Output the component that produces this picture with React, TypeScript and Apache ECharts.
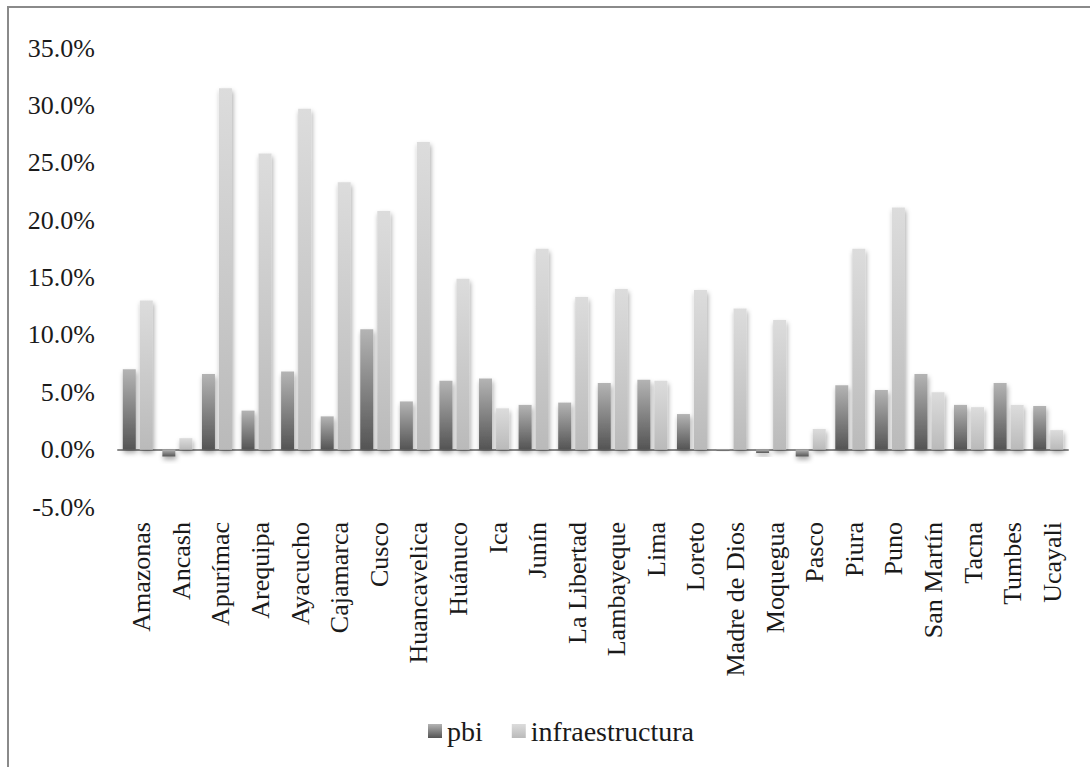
import React, { useEffect, useRef } from "react";
import * as echarts from "echarts";

const categories = [
  "Amazonas", "Ancash", "Apurímac", "Arequipa", "Ayacucho", "Cajamarca", "Cusco",
  "Huancavelica", "Huánuco", "Ica", "Junín", "La Libertad", "Lambayeque", "Lima",
  "Loreto", "Madre de Dios", "Moquegua", "Pasco", "Piura", "Puno", "San Martín",
  "Tacna", "Tumbes", "Ucayali",
];
const pbi = [7.0, -0.6, 6.6, 3.4, 6.8, 2.9, 10.5, 4.2, 6.0, 6.2, 3.9, 4.1, 5.8, 6.1, 3.1, -0.1, -0.3, -0.6, 5.6, 5.2, 6.6, 3.9, 5.8, 3.8];
const infraestructura = [13.0, 1.0, 31.5, 25.8, 29.7, 23.3, 20.8, 26.8, 14.9, 3.6, 17.5, 13.3, 14.0, 6.0, 13.9, 12.3, 11.3, 1.8, 17.5, 21.1, 5.0, 3.7, 3.9, 1.7];
const seriesNames = ["pbi", "infraestructura"];
const yMin = -5;
const yMax = 35;
const yStep = 5;

const FONT = "'Liberation Serif', 'Times New Roman', Times, serif";

export default function App() {
  const ref = useRef<HTMLDivElement>(null);
  useEffect(() => {
    if (!ref.current) return;
    const chart = echarts.init(ref.current, undefined, { renderer: "svg" });
    const shadow = {
      shadowColor: "rgba(0,0,0,0.35)",
      shadowBlur: 5,
      shadowOffsetX: 1,
      shadowOffsetY: 3,
    };
    chart.setOption({
      animation: false,
      backgroundColor: "#ffffff",
      textStyle: { fontFamily: FONT },
      graphic: [
        {
          type: "rect",
          shape: { x: 8, y: 7, width: 1100, height: 800 },
          style: { fill: "none", stroke: "#8a8a8a", lineWidth: 2 },
          silent: true,
        },
      ],
      grid: { left: 118, right: 22, top: 48, bottom: 260, containLabel: false },
      legend: {
        left: 423,
        top: 712,
        itemWidth: 14,
        itemHeight: 14,
        itemGap: 29,
        icon: "rect",
        textStyle: { fontFamily: FONT, fontSize: 28, color: "#1a1a1a" },
        data: seriesNames,
      },
      xAxis: [
        {
          type: "category",
          data: categories,
          axisLine: { show: true, onZero: true, lineStyle: { color: "#8a8a8a", width: 2 } },
          axisTick: { show: false },
          axisLabel: { show: false },
        },
        {
          type: "category",
          data: categories,
          position: "bottom",
          axisLine: { show: false, onZero: false },
          axisTick: { show: false },
          axisLabel: {
            rotate: 90,
            margin: 15,
            interval: 0,
            fontFamily: FONT,
            fontSize: 26,
            color: "#1a1a1a",
            verticalAlign: "top",
            lineHeight: 8,
          },
        },
      ],
      yAxis: {
        type: "value",
        min: yMin,
        max: yMax,
        interval: yStep,
        axisLine: { show: false },
        axisTick: { show: false },
        splitLine: { show: false },
        axisLabel: {
          margin: 23,
          fontFamily: FONT,
          fontSize: 26,
          color: "#1a1a1a",
          formatter: (v: number) => v.toFixed(1) + "%",
        },
      },
      series: [
        {
          name: seriesNames[0],
          type: "bar",
          data: pbi,
          barWidth: 13,
          barGap: "31%",
          itemStyle: {
            color: new echarts.graphic.LinearGradient(0, 0, 0, 1, [
              { offset: 0, color: "#b4b4b4" },
              { offset: 1, color: "#545454" },
            ]),
            ...shadow,
          },
        },
        {
          name: seriesNames[1],
          type: "bar",
          data: infraestructura,
          barWidth: 13,
          barGap: "31%",
          itemStyle: {
            color: new echarts.graphic.LinearGradient(0, 0, 0, 1, [
              { offset: 0, color: "#dcdcdc" },
              { offset: 1, color: "#bababa" },
            ]),
            ...shadow,
          },
        },
      ],
    });
    return () => chart.dispose();
  }, []);
  return (
    <div
      ref={ref}
      style={{ position: "fixed", left: 0, top: 0, width: 1090, height: 767 }}
    />
  );
}
